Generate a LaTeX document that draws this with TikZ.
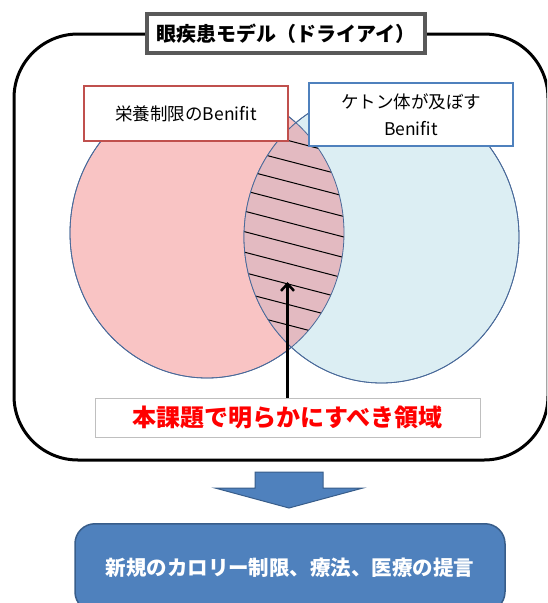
\documentclass[tikz,border=0pt]{standalone}
\usepackage{fontspec}
\setmainfont{Noto Sans CJK JP}
\usepackage{tikz}
\usetikzlibrary{positioning, calc, arrows.meta}
\definecolor{pinkfill}{HTML}{F9C4C4}
\definecolor{aquafill}{HTML}{DCEEF3}
\definecolor{lensfill}{HTML}{E3BAC1}
\definecolor{ringline}{HTML}{4A6A9A}
\definecolor{labelred}{HTML}{C0504D}
\definecolor{labelblue}{HTML}{4F81BD}
\definecolor{titlegray}{HTML}{595959}
\definecolor{boxgray}{HTML}{BFBFBF}
\definecolor{resultfill}{HTML}{4F81BD}
\definecolor{resultline}{HTML}{385D8A}
\tikzset{
  labelbox/.style={draw, fill=white, line width=2pt, minimum width=204pt, font=\fontsize{17.5}{27}\selectfont},
  ring/.style={draw=ringline, line width=0.8pt}
}

\begin{document}
\begin{tikzpicture}[x=1pt, y=-1pt, every node/.style={inner sep=0pt, align=center}]
			\clip (0,0) rectangle (547,603);
			%% outer frame
			\draw [line width=3pt, rounded corners=64pt] (14,34) rectangle (548,460);
			
			%% the two sets
			\path [ring, fill=pinkfill] (207,233) ellipse [x radius=137, y radius=145];
			\path [ring, fill=aquafill] (381.5,237) ellipse [x radius=137.5, y radius=146];
			\begin{scope}
				\clip (207,233) ellipse [x radius=137, y radius=145];
				\fill [lensfill] (381.5,237) ellipse [x radius=137.5, y radius=146];
				\clip (381.5,237) ellipse [x radius=137.5, y radius=146];
				\foreach \k in {0,...,9}
					\draw [line width=1pt] (230, 125.4+20.5*\k) -- (360, 159.2+20.5*\k);
			\end{scope}
			\draw [ring] (207,233) ellipse [x radius=137, y radius=145];
			\draw [ring] (381.5,237) ellipse [x radius=137.5, y radius=146];
			
			\node (title) [draw=titlegray, fill=white, line width=4pt, minimum width=278pt, minimum height=39pt, font=\fontsize{20}{24}\bfseries] at (286,33.5) {眼疾患モデル（ドライアイ）};
			\node (leftlabel) [labelbox, draw=labelred, minimum height=55pt] at (186,113.5) {栄養制限のBenifit};
			\node (rightlabel) [labelbox, draw=labelblue, minimum height=63pt] at (411,114.5) {ケトン体が及ぼす\\Benifit};
			
			\node (focus) [draw=boxgray, fill=white, line width=0.8pt, minimum width=385pt, minimum height=39pt, text=red, font=\fontsize{24}{28}\bfseries] at (287.5,417.5) {本課題で明らかにすべき領域};
			\coordinate (lens) at (287.5,282);
			\draw [line width=2.5pt, -{Straight Barb[length=7pt, width=13pt]}] (focus.north) -- (lens);
			
			%% block arrow
			\filldraw [fill=resultfill, draw=resultline, line width=1pt] (255,472) -- (323,472) -- (323,488) -- (363,488) -- (289,508) -- (215,488) -- (255,488) -- cycle;
			\node (result) [draw=resultline, fill=resultfill, line width=1.5pt, rounded corners=20pt, minimum width=430pt, minimum height=88pt, anchor=north, text=white, font=\fontsize{20.5}{24}\bfseries] at (290,523) {新規のカロリー制限、療法、医療の提言};
			\end{tikzpicture}
\end{document}
